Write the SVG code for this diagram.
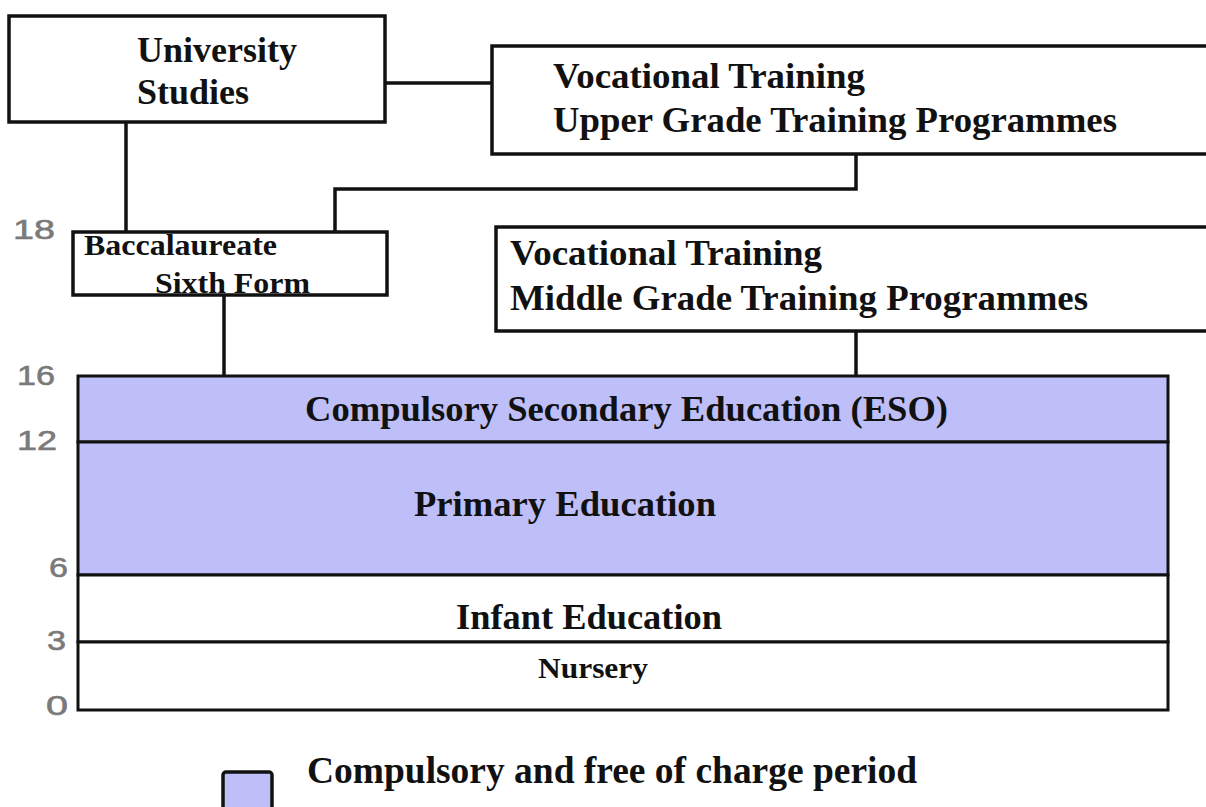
<svg xmlns="http://www.w3.org/2000/svg" width="1206" height="807" viewBox="0 0 1206 807">
<style>
.box{fill:#fff;stroke:#111;stroke-width:3.5}
.band{stroke:#111;stroke-width:3}
.t{font-family:"Liberation Serif","Times New Roman",serif;font-weight:bold;fill:#111}
.age{font-family:"Liberation Sans",Arial,sans-serif;fill:#7a7a7a;font-size:27px;stroke:#7a7a7a;stroke-width:0.6}
.conn{fill:none;stroke:#111;stroke-width:3.5}
</style>
<rect width="1206" height="807" fill="#fff"/>
<g id="connectors">
<line class="conn" x1="385" y1="83" x2="492" y2="83"/>
<line class="conn" x1="126" y1="122" x2="126" y2="232"/>
<polyline class="conn" points="856,154 856,189 335,189 335,232"/>
<line class="conn" x1="224" y1="295" x2="224" y2="376"/>
<line class="conn" x1="856" y1="331" x2="856" y2="376"/>
</g>
<g id="university">
<rect class="box" x="9" y="16" width="376" height="106"/>
<text class="t" x="137" y="62" font-size="36">University</text>
<text class="t" x="137" y="104" font-size="36">Studies</text>
</g>
<g id="vocational-upper">
<rect class="box" x="492" y="46" width="720" height="108"/>
<text class="t" x="553" y="88" font-size="36" textLength="312" lengthAdjust="spacingAndGlyphs">Vocational Training</text>
<text class="t" x="553" y="132" font-size="36" textLength="564" lengthAdjust="spacingAndGlyphs">Upper Grade Training Programmes</text>
</g>
<g id="baccalaureate">
<rect class="box" x="73" y="232" width="314" height="63"/>
<text class="t" x="84" y="255" font-size="30" textLength="193" lengthAdjust="spacingAndGlyphs">Baccalaureate</text>
<text class="t" x="155" y="293" font-size="30" textLength="155" lengthAdjust="spacingAndGlyphs">Sixth Form</text>
</g>
<g id="vocational-middle">
<rect class="box" x="496" y="227" width="716" height="104"/>
<text class="t" x="510" y="265" font-size="36" textLength="312" lengthAdjust="spacingAndGlyphs">Vocational Training</text>
<text class="t" x="510" y="310" font-size="36" textLength="578" lengthAdjust="spacingAndGlyphs">Middle Grade Training Programmes</text>
</g>
<g id="eso">
<rect x="78" y="376" width="1090" height="66" fill="#bebef8" class="band"/>
<text class="t" x="305" y="421" font-size="36" textLength="643" lengthAdjust="spacingAndGlyphs">Compulsory Secondary Education (ESO)</text>
</g>
<g id="primary">
<rect x="78" y="442" width="1090" height="133" fill="#bebef8" class="band"/>
<text class="t" x="414" y="516" font-size="36" textLength="302" lengthAdjust="spacingAndGlyphs">Primary Education</text>
</g>
<g id="infant">
<rect x="78" y="575" width="1090" height="67" fill="#fff" class="band"/>
<text class="t" x="456" y="629" font-size="36" textLength="266" lengthAdjust="spacingAndGlyphs">Infant Education</text>
</g>
<g id="nursery">
<rect x="78" y="642" width="1090" height="68" fill="#fff" class="band"/>
<text class="t" x="538" y="678" font-size="29" textLength="110" lengthAdjust="spacingAndGlyphs">Nursery</text>
</g>
<g id="ages">
<text class="age" x="13" y="239" textLength="42" lengthAdjust="spacingAndGlyphs">18</text>
<text class="age" x="17" y="385" textLength="38" lengthAdjust="spacingAndGlyphs">16</text>
<text class="age" x="17" y="450" textLength="40" lengthAdjust="spacingAndGlyphs">12</text>
<text class="age" x="49" y="577" textLength="19" lengthAdjust="spacingAndGlyphs">6</text>
<text class="age" x="47" y="650" textLength="19" lengthAdjust="spacingAndGlyphs">3</text>
<text class="age" x="46" y="715" textLength="22" lengthAdjust="spacingAndGlyphs">0</text>
</g>
<g id="legend">
<rect x="223" y="772" width="49" height="45" rx="3" fill="#bebef8" stroke="#111" stroke-width="3.5"/>
<text class="t" x="307" y="783" font-size="37" textLength="610" lengthAdjust="spacingAndGlyphs">Compulsory and free of charge period</text>
</g>
</svg>
